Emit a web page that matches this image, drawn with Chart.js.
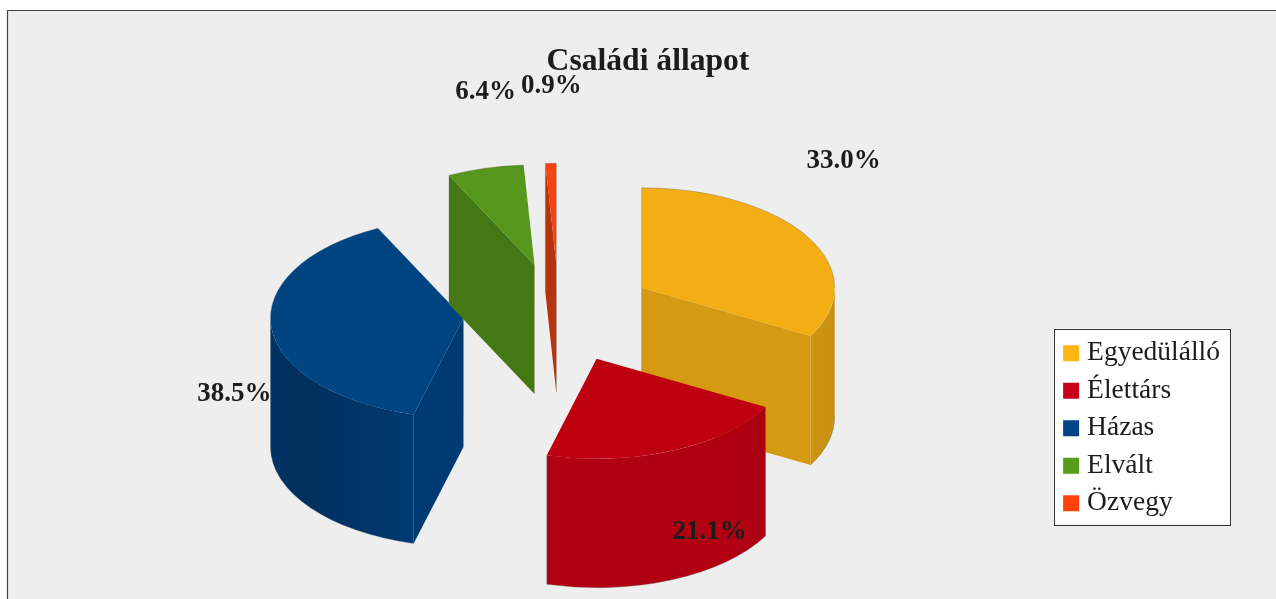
<!DOCTYPE html>
<html><head><meta charset="utf-8">
<style>html,body{margin:0;padding:0;background:#fff}canvas{display:block}</style>
<script src="https://cdn.jsdelivr.net/npm/chart.js@4"></script>
</head><body><canvas id="c" width="1276" height="599"></canvas>
<script>
const categories = ['Egyedülálló', 'Élettárs', 'Házas', 'Elvált', 'Özvegy'];
const shares = [33.0, 21.1, 38.5, 6.4, 0.9];
const legendColors = ['#FFB514', '#C9001A', '#004586', '#579D1C', '#FF420E'];
const topColors = ['#F2AE14', '#BE0011', '#004481', '#55961C', '#F54410'];
const wallColors = ['#D59A12', '#B00012', '#003A72', '#437815', '#B5340C'];
const titleText = 'Családi állapot';

const view = {cx: 559, cy: 313, squash: 0.518, depth: 129, explode: 96};
const drawOrder = [0, 2, 3, 4, 1];
const labelNudge = [[202, -127], [113, 173], [-229, 76], [-49, -173], [-5, -177]];
const serif = '"Liberation Serif", serif';
const ink = '#1c1c1c';

function sliceGeom(el) {
  const mid = (el.startAngle + el.endAngle) / 2;
  const ax = view.cx + Math.cos(mid) * view.explode;
  const ay = view.cy + Math.sin(mid) * view.explode * view.squash;
  return {ax, ay, r: el.outerRadius, ry: el.outerRadius * view.squash};
}
function radialWall(ctx, g, a, color) {
  const x = g.ax + Math.cos(a) * g.r, y = g.ay + Math.sin(a) * g.ry;
  ctx.fillStyle = color;
  ctx.beginPath();
  ctx.moveTo(g.ax, g.ay); ctx.lineTo(x, y);
  ctx.lineTo(x, y + view.depth); ctx.lineTo(g.ax, g.ay + view.depth);
  ctx.closePath(); ctx.fill();
}
function outerWall(ctx, g, a0, a1, color) {
  const s = Math.max(a0, 0), e = Math.min(a1, Math.PI);
  if (e <= s) return;
  const path = () => {
    ctx.beginPath();
    ctx.ellipse(g.ax, g.ay, g.r, g.ry, 0, s, e);
    ctx.ellipse(g.ax, g.ay + view.depth, g.r, g.ry, 0, e, s, true);
    ctx.closePath();
  };
  ctx.fillStyle = color; path(); ctx.fill();
  const sh = ctx.createLinearGradient(g.ax - g.r, 0, g.ax + g.r, 0);
  sh.addColorStop(0, 'rgba(0,0,0,.10)');
  sh.addColorStop(0.08, 'rgba(0,0,0,.18)');
  sh.addColorStop(0.37, 'rgba(0,0,0,0)');
  sh.addColorStop(0.88, 'rgba(0,0,0,0)');
  sh.addColorStop(0.95, 'rgba(0,0,0,.04)');
  sh.addColorStop(1, 'rgba(0,0,0,.06)');
  ctx.fillStyle = sh; path(); ctx.fill();
}
function edgeLines(ctx, g, a0, a1) {
  ctx.strokeStyle = 'rgba(110,110,110,.35)';
  ctx.lineWidth = 1;
  const xs = [g.ax];
  [a0, a1].forEach(a => xs.push(g.ax + Math.cos(a) * g.r));
  if (a0 < 0 && a1 > 0) xs.push(g.ax + g.r);
  if (a0 < Math.PI && a1 > Math.PI) xs.push(g.ax - g.r);
  const lo = Math.min(...xs), hi = Math.max(...xs);
  ctx.beginPath();
  [a0, a1].forEach(a => {
    const x = g.ax + Math.cos(a) * g.r, y = g.ay + Math.sin(a) * g.ry;
    if (x <= lo + .5 || x >= hi - .5) {
      const tie = Math.abs(x - g.ax) < .5;
      ctx.moveTo(x, y); ctx.lineTo(x, (tie ? g.ay : y) + view.depth);
    }
  });
  ctx.stroke();
  const backE = Math.min(a1, 0);
  if (backE > a0) { ctx.beginPath(); ctx.ellipse(g.ax, g.ay, g.r, g.ry, 0, a0, backE); ctx.stroke(); }
  const s2 = Math.max(a0, Math.PI);
  if (a1 > s2) { ctx.beginPath(); ctx.ellipse(g.ax, g.ay, g.r, g.ry, 0, s2, a1); ctx.stroke(); }
  const fs = Math.max(a0, 0), fe = Math.min(a1, Math.PI);
  if (fe > fs) { ctx.beginPath(); ctx.ellipse(g.ax, g.ay + view.depth, g.r, g.ry, 0, fs, fe); ctx.stroke(); }
}

const pie3d = {
  id: 'pie3d',
  beforeDraw(chart) {
    const ctx = chart.ctx, W = chart.width, H = chart.height;
    ctx.save();
    ctx.fillStyle = '#EEEEEE';
    ctx.fillRect(7, 10, W - 7, H - 10);
    ctx.strokeStyle = '#444';
    ctx.lineWidth = 1.2;
    ctx.beginPath(); ctx.moveTo(7.5, H); ctx.lineTo(7.5, 10.5); ctx.lineTo(W, 10.5); ctx.stroke();
    const hb = chart.legend.legendHitBoxes;
    const l = hb[0].left - 15.25, t = hb[0].top - 11;
    const r = chart.legend.right, b = hb[hb.length - 1].top + hb[hb.length - 1].height + 7.5;
    ctx.fillStyle = '#fff';
    ctx.fillRect(l, t, r - l, b - t);
    ctx.strokeStyle = '#333'; ctx.lineWidth = 1;
    ctx.strokeRect(Math.round(l) + .5, Math.round(t) + .5, Math.round(r - l), Math.round(b - t));
    ctx.restore();
  },
  beforeDatasetDraw(chart, args) {
    const ctx = chart.ctx, arcs = args.meta.data;
    drawOrder.forEach(i => {
      const el = arcs[i], g = sliceGeom(el);
      const a0 = el.startAngle, a1 = el.endAngle;
      ctx.save();
      if (Math.sin(a0 - Math.PI / 2) > 0.001) radialWall(ctx, g, a0, wallColors[i]);
      if (Math.sin(a1 + Math.PI / 2) > 0.001) radialWall(ctx, g, a1, wallColors[i]);
      outerWall(ctx, g, a0, a1, wallColors[i]);
      ctx.save();
      ctx.translate(g.ax, g.ay);
      ctx.scale(1, view.squash);
      ctx.translate(-el.x, -el.y);
      el.draw(ctx);
      ctx.restore();
      edgeLines(ctx, g, a0, a1);
      ctx.restore();
    });
    ctx.save();
    ctx.font = 'bold 27px ' + serif;
    ctx.fillStyle = ink;
    ctx.textAlign = 'center';
    ctx.textBaseline = 'middle';
    arcs.forEach((el, i) => {
      const g = sliceGeom(el);
      ctx.fillText(shares[i].toFixed(1) + '%', g.ax + labelNudge[i][0], g.ay + labelNudge[i][1]);
    });
    ctx.restore();
    return false;
  }
};

new Chart(document.getElementById('c'), {
  type: 'pie',
  data: {
    labels: categories,
    datasets: [{data: shares, backgroundColor: topColors, borderWidth: 0, radius: 193}]
  },
  options: {
    responsive: false,
    animation: false,
    events: [],
    layout: {padding: {left: 66, right: 46, top: 0, bottom: 72}},
    plugins: {
      tooltip: {enabled: false},
      title: {
        display: true, text: titleText, color: ink,
        font: {family: serif, size: 31.6, weight: 'bold'},
        padding: {top: 43, bottom: 6}
      },
      legend: {
        position: 'right', align: 'end',
        labels: {
          boxWidth: 4.5, boxHeight: 4.5, padding: 10, color: ink,
          font: {family: serif, size: 27.5},
          generateLabels: chart => categories.map((t, i) => ({
            text: t, index: i, fillStyle: legendColors[i], strokeStyle: legendColors[i],
            lineWidth: 11.5, fontColor: ink, hidden: false
          }))
        }
      }
    }
  },
  plugins: [pie3d]
});
</script></body></html>
